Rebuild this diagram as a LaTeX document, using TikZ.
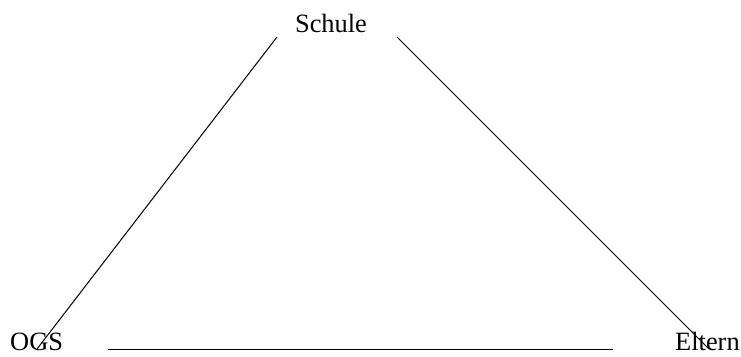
\documentclass[tikz,border=0pt]{standalone}
\usepackage{fontspec}
\setmainfont{Liberation Serif}
\usetikzlibrary{positioning}

\begin{document}
\begin{tikzpicture}[x=1pt,y=-1pt]
		\tikzset{word/.style={inner sep=0pt, font=\fontsize{26.4}{30}\selectfont}}
		\useasboundingbox (0,0) rectangle (741,356);
		\node[word, anchor=base] (schule) at (331,32) {Schule};
		\node[word, anchor=base west] (ogs) at (10,350) {OGS};
		\node[word, anchor=base west] (eltern) at (675,350) {Eltern};
		\coordinate (sl) at (277,37);
		\coordinate (sr) at (397,37);
		\coordinate (ol) at (37,349);
		\coordinate (er) at (709,349);
		\coordinate (bl) at (108,349);
		\coordinate (br) at (613,349);
		\draw[line width=1pt](sl)--(ol);
		\draw[line width=1pt](sr)--(er);
		\draw[line width=1pt](bl)--(br);
	\end{tikzpicture}
\end{document}
